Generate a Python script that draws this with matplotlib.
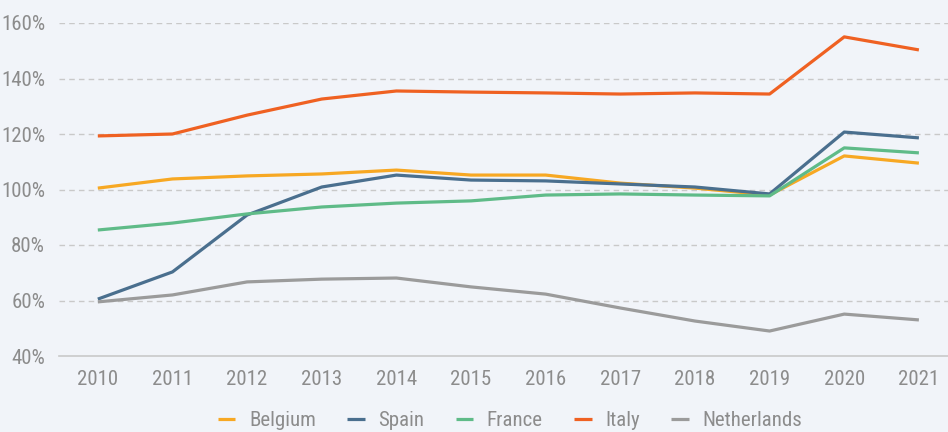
import matplotlib
matplotlib.use("Agg")
import matplotlib.pyplot as plt
from matplotlib import font_manager
from matplotlib.ticker import FuncFormatter

years = [2010, 2011, 2012, 2013, 2014, 2015, 2016, 2017, 2018, 2019, 2020, 2021]
belgium = [100.5, 103.8, 104.9, 105.6, 107.0, 105.2, 105.2, 102.3, 100.5, 98.0, 112.1, 109.5]
spain = [60.5, 70.3, 90.8, 100.9, 105.2, 103.4, 103.1, 102.0, 100.9, 98.4, 120.7, 118.6]
france = [85.4, 87.9, 91.2, 93.7, 95.1, 95.9, 98.0, 98.4, 98.0, 97.7, 115.0, 113.2]
italy = [119.3, 120.0, 126.8, 132.6, 135.5, 135.1, 134.8, 134.4, 134.8, 134.4, 155.0, 150.3]
netherlands = [59.5, 62.0, 66.7, 67.7, 68.1, 64.9, 62.3, 57.3, 52.6, 49.0, 55.1, 53.0]
yticks = [40, 60, 80, 100, 120, 140, 160]

series = [
    ("Belgium", belgium, "#f7a823"),
    ("Spain", spain, "#4a6f8e"),
    ("France", france, "#5fbb88"),
    ("Italy", italy, "#ef6122"),
    ("Netherlands", netherlands, "#9b9b9b"),
]

fl = font_manager.fontManager.ttflist
names = {f.name for f in fl}
stretch = "normal"
fam = "DejaVu Sans"
for cand in ["Roboto Condensed", "Open Sans Condensed", "Liberation Sans Narrow", "Arial Narrow"]:
    if cand in names:
        fam = cand
        break
else:
    for f in fl:
        if f.name in ("Roboto", "Open Sans", "Noto Sans", "DejaVu Sans") and str(f.stretch) in ("condensed", "semi-condensed", "extra-condensed", "75", "87.5"):
            fam = f.name
            stretch = "condensed"
            break
plt.rcParams["font.family"] = [fam, "DejaVu Sans"]
plt.rcParams["font.stretch"] = stretch

bg = "#f1f4f9"
tc = "#8c8c8c"
fig = plt.figure(figsize=(9.48, 4.32), dpi=100, facecolor=bg)
ax = fig.add_axes([59 / 948, 1 - 356 / 432, 1 - 59 / 948, (356 - 23) / 432])
ax.set_facecolor(bg)

for name, vals, col in series:
    ax.plot(years, vals, color=col, lw=2.3, label=name, solid_capstyle="butt")

ax.set_ylim(40, 160)
ax.set_xlim(2009.48, 2021.39)
ax.set_yticks(yticks)
ax.set_xticks(years)
ax.yaxis.set_major_formatter(FuncFormatter(lambda v, p: f"{int(v)}%"))
for y in yticks[1:]:
    ax.axhline(y, color="#c9c9c9", lw=1, ls=(0, (4, 3)), zorder=0)
for s in ["top", "right", "left"]:
    ax.spines[s].set_visible(False)
ax.spines["bottom"].set_color("#c9c9c9")
ax.spines["bottom"].set_linewidth(1.2)
ax.tick_params(axis="both", length=0, labelsize=15, colors=tc)
ax.tick_params(axis="y", pad=10)
ax.tick_params(axis="x", pad=10)

leg = fig.legend(loc="center", bbox_to_anchor=(510 / 948, 1 - 421 / 432), ncol=5, frameon=False,
                 fontsize=15, handlelength=0.85, handletextpad=0.65, columnspacing=1.5)
for t in leg.get_texts():
    t.set_color(tc)

fig.savefig("out.png", dpi=100, facecolor=bg)
